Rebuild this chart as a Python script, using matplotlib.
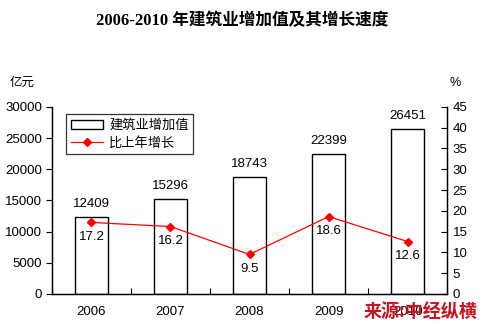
import numpy as np
import matplotlib
matplotlib.use("Agg")
import matplotlib.pyplot as plt
from matplotlib.lines import Line2D
from matplotlib.patches import Patch

plt.rcParams['font.family'] = ['Liberation Sans', 'Noto Sans CJK SC', 'DejaVu Sans']

years = ['2006', '2007', '2008', '2009', '2010']
value_added = [12409, 15296, 18743, 22399, 26451]   # 亿元
growth = [17.2, 16.2, 9.5, 18.6, 12.6]               # %

fig = plt.figure(figsize=(4.85, 3.24), dpi=100)
ax = fig.add_axes([0.107, 0.093, 0.815, 0.577])
ax2 = ax.twinx()

x = np.arange(len(years))
ax.bar(x, value_added, width=0.41, color='white', edgecolor='black', linewidth=1.0, zorder=2)
ax2.plot(x, growth, color='red', linewidth=0.9, marker='D', markersize=4.5,
         markerfacecolor='red', markeredgecolor='red', zorder=3)

# data labels
for xi, v in zip(x, value_added):
    ax.annotate(str(v), (xi, v), xytext=(0, 5), textcoords='offset points',
                ha='center', va='bottom', fontsize=9.5)
for xi, g in zip(x, growth):
    ax2.annotate(f'{g:.1f}', (xi, g), xytext=(0, -6), textcoords='offset points',
                 ha='center', va='top', fontsize=9.5)

ax.set_xlim(-0.5, len(years) - 0.5)
ax.set_ylim(0, 30000)
ax.set_yticks(np.arange(0, 30001, 5000))
ax2.set_ylim(0, 45)
ax2.set_yticks(np.arange(0, 46, 5))

ax.set_xticks(x)
ax.set_xticklabels(years)
ax.set_xticks(np.arange(-0.5, len(years)), minor=True)
ax.tick_params(axis='x', which='major', length=0, pad=9, labelsize=9.5)
ax.tick_params(axis='x', which='minor', direction='in', length=4, width=0.8)
ax.tick_params(axis='y', direction='out', length=4, width=0.8, labelsize=9.5, pad=3)
ax2.tick_params(axis='y', direction='in', length=4, width=0.8, labelsize=9.5, pad=4)

for a in (ax, ax2):
    a.spines['top'].set_visible(False)
    for s in a.spines.values():
        s.set_linewidth(0.9)

# legend
handles = [Patch(facecolor='white', edgecolor='black', label='建筑业增加值'),
           Line2D([0], [0], color='red', marker='D', markersize=4.5, linewidth=0.9,
                  label='比上年增长')]
leg = ax.legend(handles=handles, loc='upper left', bbox_to_anchor=(0.02, 0.995),
                frameon=True, fancybox=False, edgecolor='black',
                handlelength=2.4, borderpad=0.35, labelspacing=0.35, handletextpad=0.5,
                prop={'family': ['Noto Sans CJK SC'], 'size': 9.5})
leg.get_frame().set_linewidth(0.9)

# titles and axis units
fig.text(0.5, 0.935, '2006-2010 年建筑业增加值及其增长速度', ha='center', va='center',
         fontsize=12, fontweight='bold', family=['Liberation Serif', 'Noto Sans CJK SC'])
fig.text(0.045, 0.745, '亿元', ha='center', va='center', fontsize=9,
         family=['Noto Sans CJK SC'])
fig.text(0.938, 0.745, '%', ha='center', va='center', fontsize=9)

# source watermark
fig.text(0.985, 0.035, '来源:中经纵横', ha='right', va='center', fontsize=13,
         fontweight='bold', style='italic', color='#c8141e',
         family=['Noto Sans CJK SC', 'DejaVu Sans'])

fig.savefig('out.png', dpi=100)
